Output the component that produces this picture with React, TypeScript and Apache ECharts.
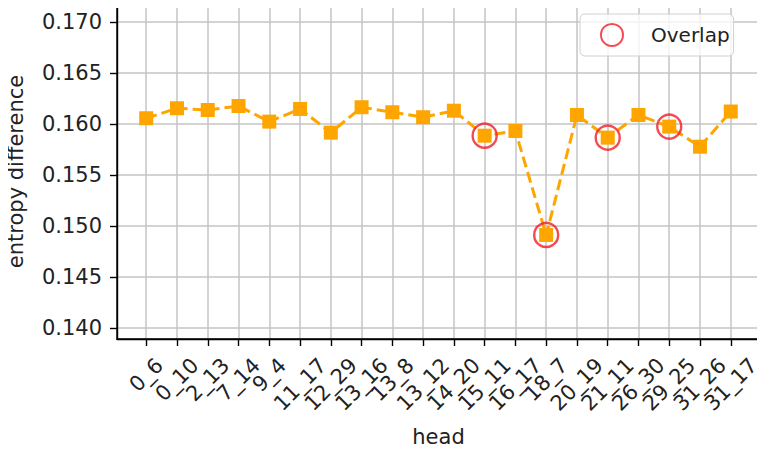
import React, { useEffect, useRef } from "react";
import * as echarts from "echarts";

const heads = [
  "0_6", "0_10", "2_13", "7_14", "9_4", "11_17", "12_29", "13_16", "13_8", "13_12",
  "14_20", "15_11", "16_17", "18_7", "20_19", "21_11", "26_30", "29_25", "31_26", "31_17",
];
const entropyDiff = [
  0.16056, 0.16154, 0.16137, 0.16176, 0.16023, 0.16147, 0.15915, 0.16164, 0.16115, 0.16066,
  0.1613, 0.15885, 0.15931, 0.14912, 0.16088, 0.15866, 0.16088, 0.15974, 0.15777, 0.16122,
];
const overlapHeads = ["15_11", "18_7", "21_11", "29_25"];
const yTicks = [0.14, 0.145, 0.15, 0.155, 0.16, 0.165, 0.17];

const FONT = "DejaVu Sans";
const FS = 21;
const TXT = "#222";

export default function App() {
  const ref = useRef<HTMLDivElement>(null);
  useEffect(() => {
    if (!ref.current) return;
    const chart = echarts.init(ref.current, null, { renderer: "svg" });
    const xIdx = heads.map((_, i) => i);
    const lineData = entropyDiff.map((v, i) => [i, v]);
    const overlapData = overlapHeads.map((h) => {
      const i = heads.indexOf(h);
      return [i, entropyDiff[i]];
    });
    const digitW = 0.636 * FS;
    const richBase = { fontFamily: FONT, fontSize: FS, color: TXT };
    const rich: any = {
      n2: { ...richBase },
      n3: { ...richBase, padding: [digitW / 2, digitW / 2, 0, 0] },
      n4: { ...richBase, padding: [digitW, digitW, 0, 0] },
    };
    chart.setOption({
      animation: false,
      grid: {
        left: 117,
        top: 4,
        right: 5,
        bottom: 113,
        containLabel: false,
        outerBoundsMode: "none",
        show: true,
        borderColor: "#000",
        borderWidth: 1.4,
        backgroundColor: "transparent",
        z: 5,
      },
      legend: {
        data: ["Overlap"],
        left: 580,
        top: 14,
        icon: "circle",
        itemWidth: 42,
        itemHeight: 22,
        padding: [9, 4, 9, 20],
        borderColor: "#d0d0d0",
        borderWidth: 1,
        borderRadius: 5,
        backgroundColor: "rgba(255,255,255,0.8)",
        textStyle: { fontFamily: FONT, fontSize: 20, color: TXT, padding: [0, 0, 0, 13] },
      },
      xAxis: {
        type: "value",
        min: -0.95,
        max: 19.95,
        name: "head",
        nameLocation: "middle",
        nameGap: 87,
        nameTextStyle: { fontFamily: FONT, fontSize: FS, color: TXT },
        axisLine: { show: true, onZero: false, lineStyle: { color: "#000", width: 1.4 } },
        axisTick: { show: true, length: 7, inside: false, customValues: xIdx, lineStyle: { color: "#000", width: 1.4 } },
        axisLabel: {
          customValues: xIdx,
          rotate: 45,
          align: "center",
          verticalAlign: "middle",
          margin: 36,
          fontFamily: FONT,
          fontSize: FS,
          color: TXT,
          formatter: (v: number) => {
            const lab = heads[Math.round(v)] ?? "";
            const n = lab.replace("_", "").length;
            return `{n${n}|${lab}}`;
          },
          rich,
        },
        splitLine: { show: true, lineStyle: { color: "#c4c4c4", width: 1.5 } },
      },
      yAxis: {
        type: "value",
        min: 0.13892,
        max: 0.17176,
        name: "entropy difference",
        nameLocation: "middle",
        nameGap: 91,
        nameTextStyle: { fontFamily: FONT, fontSize: FS, color: TXT },
        axisLine: { show: true, onZero: false, lineStyle: { color: "#000", width: 1.4 } },
        axisTick: { show: true, length: 7, inside: false, customValues: yTicks, lineStyle: { color: "#000", width: 1.4 } },
        axisLabel: {
          customValues: yTicks,
          margin: 15,
          fontFamily: FONT,
          fontSize: FS,
          color: TXT,
          formatter: (v: number) => v.toFixed(3),
        },
        splitLine: { show: true, lineStyle: { color: "#c4c4c4", width: 1.5 } },
      },
      series: [
        {
          name: "entropy",
          type: "line",
          data: lineData,
          symbol: "rect",
          symbolSize: 14,
          itemStyle: { color: "#FFA500" },
          lineStyle: { color: "#FFA500", width: 3, type: [11, 5] },
          z: 2,
        },
        {
          name: "Overlap",
          type: "scatter",
          data: overlapData,
          symbol: "circle",
          symbolSize: 24,
          itemStyle: { color: "rgba(0,0,0,0)", borderColor: "#f01e28", borderWidth: 2.4 },
          z: 3,
        },
      ],
    });
    return () => chart.dispose();
  }, []);
  return <div ref={ref} style={{ width: 765, height: 452, margin: -8 }} />;
}
